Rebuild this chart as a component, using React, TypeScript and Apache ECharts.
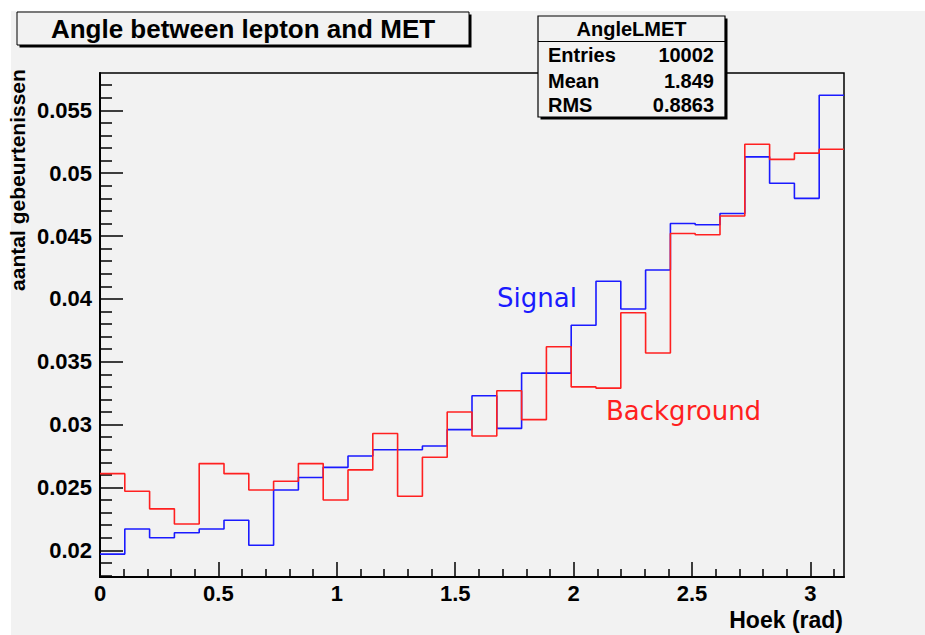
import React, { useEffect, useRef } from "react";
import * as echarts from "echarts";

// Histogram: 30 bins over [0, π]
const NBINS = 30;
const XMAX = Math.PI;
const signal = [
  0.0197, 0.0217, 0.0210, 0.0214, 0.0217, 0.0224, 0.0204, 0.0248, 0.0258, 0.0266,
  0.0275, 0.0280, 0.0280, 0.0283, 0.0296, 0.0323, 0.0297, 0.0341, 0.0341, 0.0379,
  0.0414, 0.0392, 0.0423, 0.0460, 0.0459, 0.0468, 0.0513, 0.0492, 0.0480, 0.0562,
];
const background = [
  0.0261, 0.0247, 0.0233, 0.0221, 0.0269, 0.0261, 0.0248, 0.0255, 0.0269, 0.0240,
  0.0264, 0.0293, 0.0243, 0.0274, 0.0310, 0.0291, 0.0327, 0.0304, 0.0362, 0.0330,
  0.0329, 0.0389, 0.0357, 0.0452, 0.0451, 0.0466, 0.0523, 0.0511, 0.0516, 0.0519,
];
const xMajorTicks = [0, 0.5, 1, 1.5, 2, 2.5, 3];
const xMinorTicks = [
  0.1, 0.2, 0.3, 0.4, 0.6, 0.7, 0.8, 0.9, 1.1, 1.2, 1.3, 1.4, 1.6, 1.7, 1.8, 1.9,
  2.1, 2.2, 2.3, 2.4, 2.6, 2.7, 2.8, 2.9, 3.1,
];
const yMajorTicks = [0.02, 0.025, 0.03, 0.035, 0.04, 0.045, 0.05, 0.055];
const yMinorTicks = [
  0.018, 0.019, 0.021, 0.022, 0.023, 0.024, 0.026, 0.027, 0.028, 0.029, 0.031, 0.032,
  0.033, 0.034, 0.036, 0.037, 0.038, 0.039, 0.041, 0.042, 0.043, 0.044, 0.046, 0.047,
  0.048, 0.049, 0.051, 0.052, 0.053, 0.054, 0.056, 0.057,
];
const YMIN = 0.01788;
const YMAX = 0.05797;

const statsRows = [
  ["Entries", "10002"],
  ["Mean", "1.849"],
  ["RMS", "0.8863"],
];

const FONT = "'Liberation Sans', Arial, Helvetica, sans-serif";
const BG = "#f2f2f2";

function toSteps(values: number[]) {
  const w = XMAX / NBINS;
  const pts: number[][] = values.map((v, i) => [i * w, v]);
  pts.push([XMAX, values[values.length - 1]]);
  return pts;
}

export default function App() {
  const ref = useRef<HTMLDivElement>(null);
  useEffect(() => {
    if (!ref.current) return;
    const chart = echarts.init(ref.current, undefined, { renderer: "svg" });
    const fmt = (v: number) => String(parseFloat(Number(v).toFixed(4)));
    const statsGraphics: any[] = [];
    const rowY = [55, 80.5, 105];
    statsRows.forEach((r, i) => {
      statsGraphics.push({
        type: "text", x: 548, y: rowY[i], z: 12,
        style: { text: r[0], font: `bold 20px ${FONT}`, fill: "#000", align: "left", verticalAlign: "middle" },
      });
      statsGraphics.push({
        type: "text", x: 714, y: rowY[i], z: 12,
        style: { text: r[1], font: `bold 20px ${FONT}`, fill: "#000", align: "right", verticalAlign: "middle" },
      });
    });
    chart.setOption({
      animation: false,
      backgroundColor: "#ffffff",
      grid: {
        left: 100, top: 73, right: 81, bottom: 58,
        show: true, borderColor: "#000", borderWidth: 1.5, backgroundColor: "transparent",
      },
      xAxis: [
        {
          type: "value", min: 0, max: XMAX, position: "bottom",
          axisLine: { show: true, lineStyle: { color: "#000", width: 2 } },
          axisTick: { show: true, inside: true, length: 15, customValues: xMajorTicks, lineStyle: { color: "#000", width: 1.5 } },
          axisLabel: {
            show: true, customValues: xMajorTicks, formatter: fmt, margin: 6, lineHeight: 20,
            fontFamily: FONT, fontWeight: "bold", fontSize: 22, color: "#000",
          },
          splitLine: { show: false },
        },
        {
          type: "value", min: 0, max: XMAX, position: "bottom",
          axisLine: { show: false },
          axisTick: { show: true, inside: true, length: 8, customValues: xMinorTicks, lineStyle: { color: "#000", width: 1.5 } },
          axisLabel: { show: false },
          splitLine: { show: false },
        },
      ],
      yAxis: [
        {
          type: "value", min: YMIN, max: YMAX, position: "left",
          axisLine: { show: true, lineStyle: { color: "#000", width: 2 } },
          axisTick: { show: true, inside: true, length: 23, customValues: yMajorTicks, lineStyle: { color: "#000", width: 1.5 } },
          axisLabel: {
            show: true, customValues: yMajorTicks, formatter: fmt, margin: 8,
            fontFamily: FONT, fontWeight: "bold", fontSize: 22, color: "#000",
          },
          splitLine: { show: false },
        },
        {
          type: "value", min: YMIN, max: YMAX, position: "left",
          axisLine: { show: false },
          axisTick: { show: true, inside: true, length: 12, customValues: yMinorTicks, lineStyle: { color: "#000", width: 1.5 } },
          axisLabel: { show: false },
          splitLine: { show: false },
        },
      ],
      series: [
        {
          name: "Signal", type: "line", step: "end", xAxisIndex: 0, yAxisIndex: 0,
          data: toSteps(signal), symbol: "none",
          lineStyle: { color: "#1a1aff", width: 1.6 }, z: 3,
        },
        {
          name: "Background", type: "line", step: "end", xAxisIndex: 0, yAxisIndex: 0,
          data: toSteps(background), symbol: "none",
          lineStyle: { color: "#ff2020", width: 1.6 }, z: 4,
        },
      ],
      graphic: [
        { type: "rect", shape: { x: 11, y: 11, width: 914, height: 624 }, style: { fill: BG }, z: -10, silent: true },
        // title box
        { type: "rect", shape: { x: 19.5, y: 14.5, width: 452, height: 33 }, style: { fill: "#000" }, z: 10 },
        { type: "rect", shape: { x: 17, y: 12, width: 452, height: 33 }, style: { fill: BG, stroke: "#000", lineWidth: 1 }, z: 11 },
        {
          type: "text", x: 243, y: 29, z: 12,
          style: { text: "Angle between lepton and MET", font: `bold 26px ${FONT}`, fill: "#000", align: "center", verticalAlign: "middle" },
        },
        // stats box
        { type: "rect", shape: { x: 540.5, y: 18.5, width: 187, height: 101 }, style: { fill: "#000" }, z: 10 },
        { type: "rect", shape: { x: 538, y: 16, width: 187, height: 101 }, style: { fill: BG, stroke: "#000", lineWidth: 1.2 }, z: 11 },
        { type: "line", shape: { x1: 538, y1: 41.5, x2: 725, y2: 41.5 }, style: { stroke: "#000", lineWidth: 1.2 }, z: 12 },
        {
          type: "text", x: 631.5, y: 28.5, z: 12,
          style: { text: "AngleLMET", font: `bold 20px ${FONT}`, fill: "#000", align: "center", verticalAlign: "middle" },
        },
        ...statsGraphics,
        // axis titles
        {
          type: "text", x: 17, y: 180, rotation: Math.PI / 2, z: 12,
          style: { text: "aantal gebeurtenissen", font: `bold 21px ${FONT}`, fill: "#000", align: "center", verticalAlign: "middle" },
        },
        {
          type: "text", x: 843, y: 620, z: 12,
          style: { text: "Hoek (rad)", font: `bold 23px ${FONT}`, fill: "#000", align: "right", verticalAlign: "middle" },
        },
        // legend-ish labels
        {
          type: "text", x: 497, y: 298, z: 12,
          style: { text: "Signal", font: `26px 'DejaVu Sans', Verdana, sans-serif`, fill: "#1a1aff", align: "left", verticalAlign: "middle" },
        },
        {
          type: "text", x: 606, y: 411, z: 12,
          style: { text: "Background", font: `26px 'DejaVu Sans', Verdana, sans-serif`, fill: "#ff2020", align: "left", verticalAlign: "middle" },
        },
      ],
    });
    return () => chart.dispose();
  }, []);
  return (
    <div
      ref={ref}
      style={{ position: "fixed", left: 0, top: 0, width: 925, height: 635 }}
    />
  );
}
